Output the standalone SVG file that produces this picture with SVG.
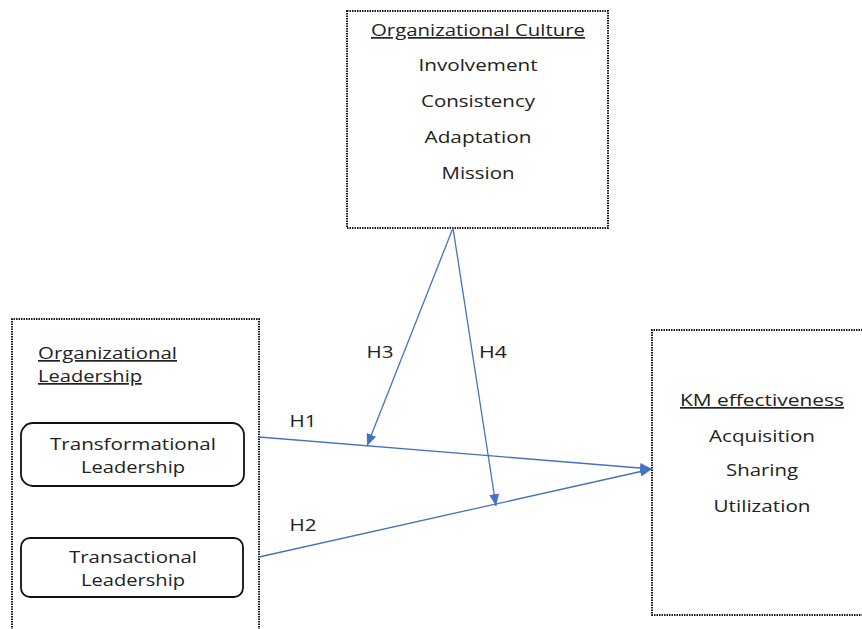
<svg xmlns="http://www.w3.org/2000/svg" width="862" height="629" viewBox="0 0 862 629">
<defs>
<style>
.box{fill:none;stroke:#1a1a1a;stroke-width:2;stroke-dasharray:1.5 1}
.rbox{fill:#fff;stroke:#111;stroke-width:1.8}
.t{font-family:"Open Sans","Liberation Sans",sans-serif;font-size:17px;fill:#222;text-anchor:middle}
.s{text-anchor:start}
.u{text-decoration:underline}
.c{stroke:#4472C4;stroke-width:1.3;fill:none;marker-end:url(#ah)}
</style>
<marker id="ah" viewBox="0 0 12 10" refX="12" refY="5" markerWidth="12" markerHeight="10" markerUnits="userSpaceOnUse" orient="auto">
<path d="M0,0 L12,5 L0,10 z" fill="#4472C4"/>
</marker>
</defs>
<rect width="862" height="629" fill="#fff"/>
<g id="culture">
<rect class="box" x="347" y="11" width="261" height="217"/>
<text class="t u" x="478" y="36" textLength="214" lengthAdjust="spacingAndGlyphs">Organizational Culture</text>
<text class="t" x="478" y="71" textLength="119" lengthAdjust="spacingAndGlyphs">Involvement</text>
<text class="t" x="478" y="107" textLength="114" lengthAdjust="spacingAndGlyphs">Consistency</text>
<text class="t" x="478" y="143" textLength="107" lengthAdjust="spacingAndGlyphs">Adaptation</text>
<text class="t" x="478" y="179" textLength="73" lengthAdjust="spacingAndGlyphs">Mission</text>
</g>
<g id="leadership">
<path class="box" d="M12,640 V319 H259 V640"/>
<text class="t u s" x="38" y="359" textLength="139" lengthAdjust="spacingAndGlyphs">Organizational</text>
<text class="t u s" x="38" y="382" textLength="104" lengthAdjust="spacingAndGlyphs">Leadership</text>
</g>
<g id="transformational">
<rect class="rbox" x="21" y="423" width="223" height="63" rx="12"/>
<text class="t" x="133" y="450" textLength="166" lengthAdjust="spacingAndGlyphs">Transformational</text>
<text class="t" x="133" y="473" textLength="104" lengthAdjust="spacingAndGlyphs">Leadership</text>
</g>
<g id="transactional">
<rect class="rbox" x="21" y="538" width="222" height="59" rx="9"/>
<text class="t" x="133" y="563" textLength="128" lengthAdjust="spacingAndGlyphs">Transactional</text>
<text class="t" x="133" y="586" textLength="104" lengthAdjust="spacingAndGlyphs">Leadership</text>
</g>
<g id="km">
<path class="box" d="M870,330 H652 V615 H870"/>
<text class="t u" x="762" y="406" textLength="164" lengthAdjust="spacingAndGlyphs">KM effectiveness</text>
<text class="t" x="762" y="442" textLength="106" lengthAdjust="spacingAndGlyphs">Acquisition</text>
<text class="t" x="762" y="476" textLength="72" lengthAdjust="spacingAndGlyphs">Sharing</text>
<text class="t" x="762" y="512" textLength="97" lengthAdjust="spacingAndGlyphs">Utilization</text>
</g>
<g id="connectors">
<line class="c" x1="259" y1="437" x2="652" y2="469"/>
<line class="c" x1="259" y1="557" x2="652" y2="469"/>
<line class="c" x1="453" y1="228" x2="367" y2="446"/>
<line class="c" x1="453" y1="228" x2="496" y2="506"/>
<text class="t" x="303" y="427" textLength="27" lengthAdjust="spacingAndGlyphs">H1</text>
<text class="t" x="303" y="531" textLength="27" lengthAdjust="spacingAndGlyphs">H2</text>
<text class="t" x="380" y="358" textLength="27" lengthAdjust="spacingAndGlyphs">H3</text>
<text class="t" x="493" y="358" textLength="28" lengthAdjust="spacingAndGlyphs">H4</text>
</g>
</svg>
